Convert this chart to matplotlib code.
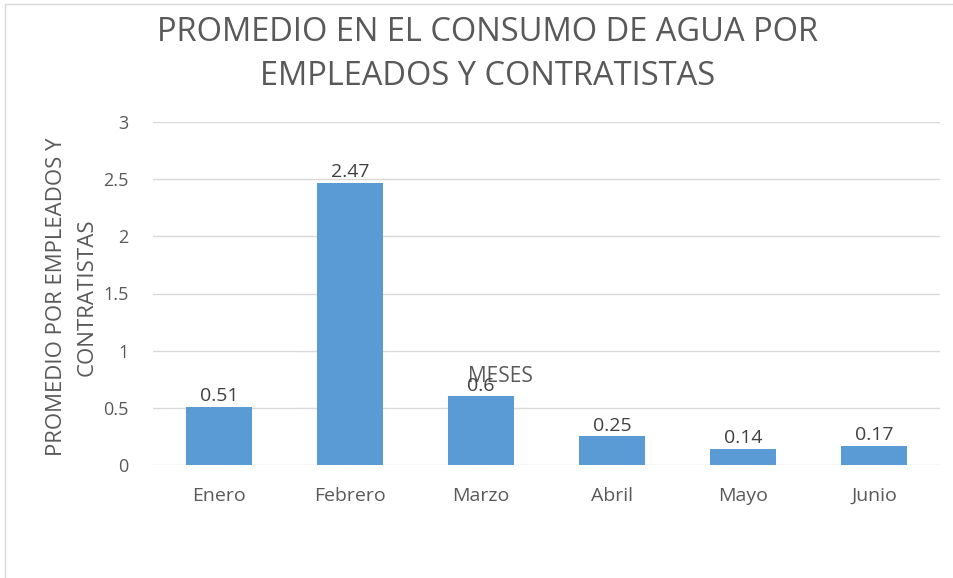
import matplotlib.pyplot as plt
from matplotlib.lines import Line2D

meses = ['Enero', 'Febrero', 'Marzo', 'Abril', 'Mayo', 'Junio']
promedio = [0.51, 2.47, 0.6, 0.25, 0.14, 0.17]
etiquetas = ['0.51', '2.47', '0.6', '0.25', '0.14', '0.17']
y_ticks = [0, 0.5, 1, 1.5, 2, 2.5, 3]
y_tick_labels = ['0', '0.5', '1', '1.5', '2', '2.5', '3']

plt.rcParams['font.family'] = ['Open Sans', 'DejaVu Sans']
gris = '#595959'

fig = plt.figure(figsize=(9.54, 5.78), dpi=100)
ax = fig.add_axes([153.5 / 954, 1 - 465 / 578, 786 / 954, 343 / 578])

x = range(len(meses))
bars = ax.bar(x, promedio, width=0.5, color='#5B9BD5', zorder=3)
for b, t in zip(bars, etiquetas):
    ax.text(b.get_x() + b.get_width() / 2, b.get_height() + 0.015, t,
            ha='center', va='bottom', fontsize=14, color='#404040', zorder=4)

ax.set_xlim(-0.5, len(meses) - 0.5)
ax.set_ylim(0, 3)
ax.set_yticks(y_ticks)
ax.set_yticklabels(y_tick_labels)
ax.set_xticks(list(x))
ax.set_xticklabels(meses)
ax.tick_params(axis='both', length=0, colors=gris)
ax.tick_params(axis='y', pad=18, labelsize=13)
ax.tick_params(axis='x', pad=16, labelsize=14)
ax.grid(axis='y', color='#D9D9D9', linewidth=1, zorder=0)
for s in ax.spines.values():
    s.set_visible(False)

# the axis title sits inside the plot, as in the original
ax.set_xlabel('MESES', fontsize=15, color=gris)
ax.xaxis.set_label_coords(0.441, 0.29)
ax.set_ylabel('PROMEDIO POR EMPLEADOS Y\nCONTRATISTAS', fontsize=16, color=gris,
              linespacing=1.6)
ax.yaxis.set_label_coords(-0.071, 0.49)

fig.text(0.511, 0.906, 'PROMEDIO EN EL CONSUMO DE AGUA POR\nEMPLEADOS Y CONTRATISTAS',
         ha='center', va='center', fontsize=23.5, color=gris, linespacing=1.45)

fig.add_artist(Line2D([5 / 954, 5 / 954], [0, 1 - 4 / 578], color='#D9D9D9', linewidth=1))
fig.add_artist(Line2D([5 / 954, 1], [1 - 4 / 578, 1 - 4 / 578], color='#D9D9D9', linewidth=1))

fig.savefig('out.png', dpi=100)
